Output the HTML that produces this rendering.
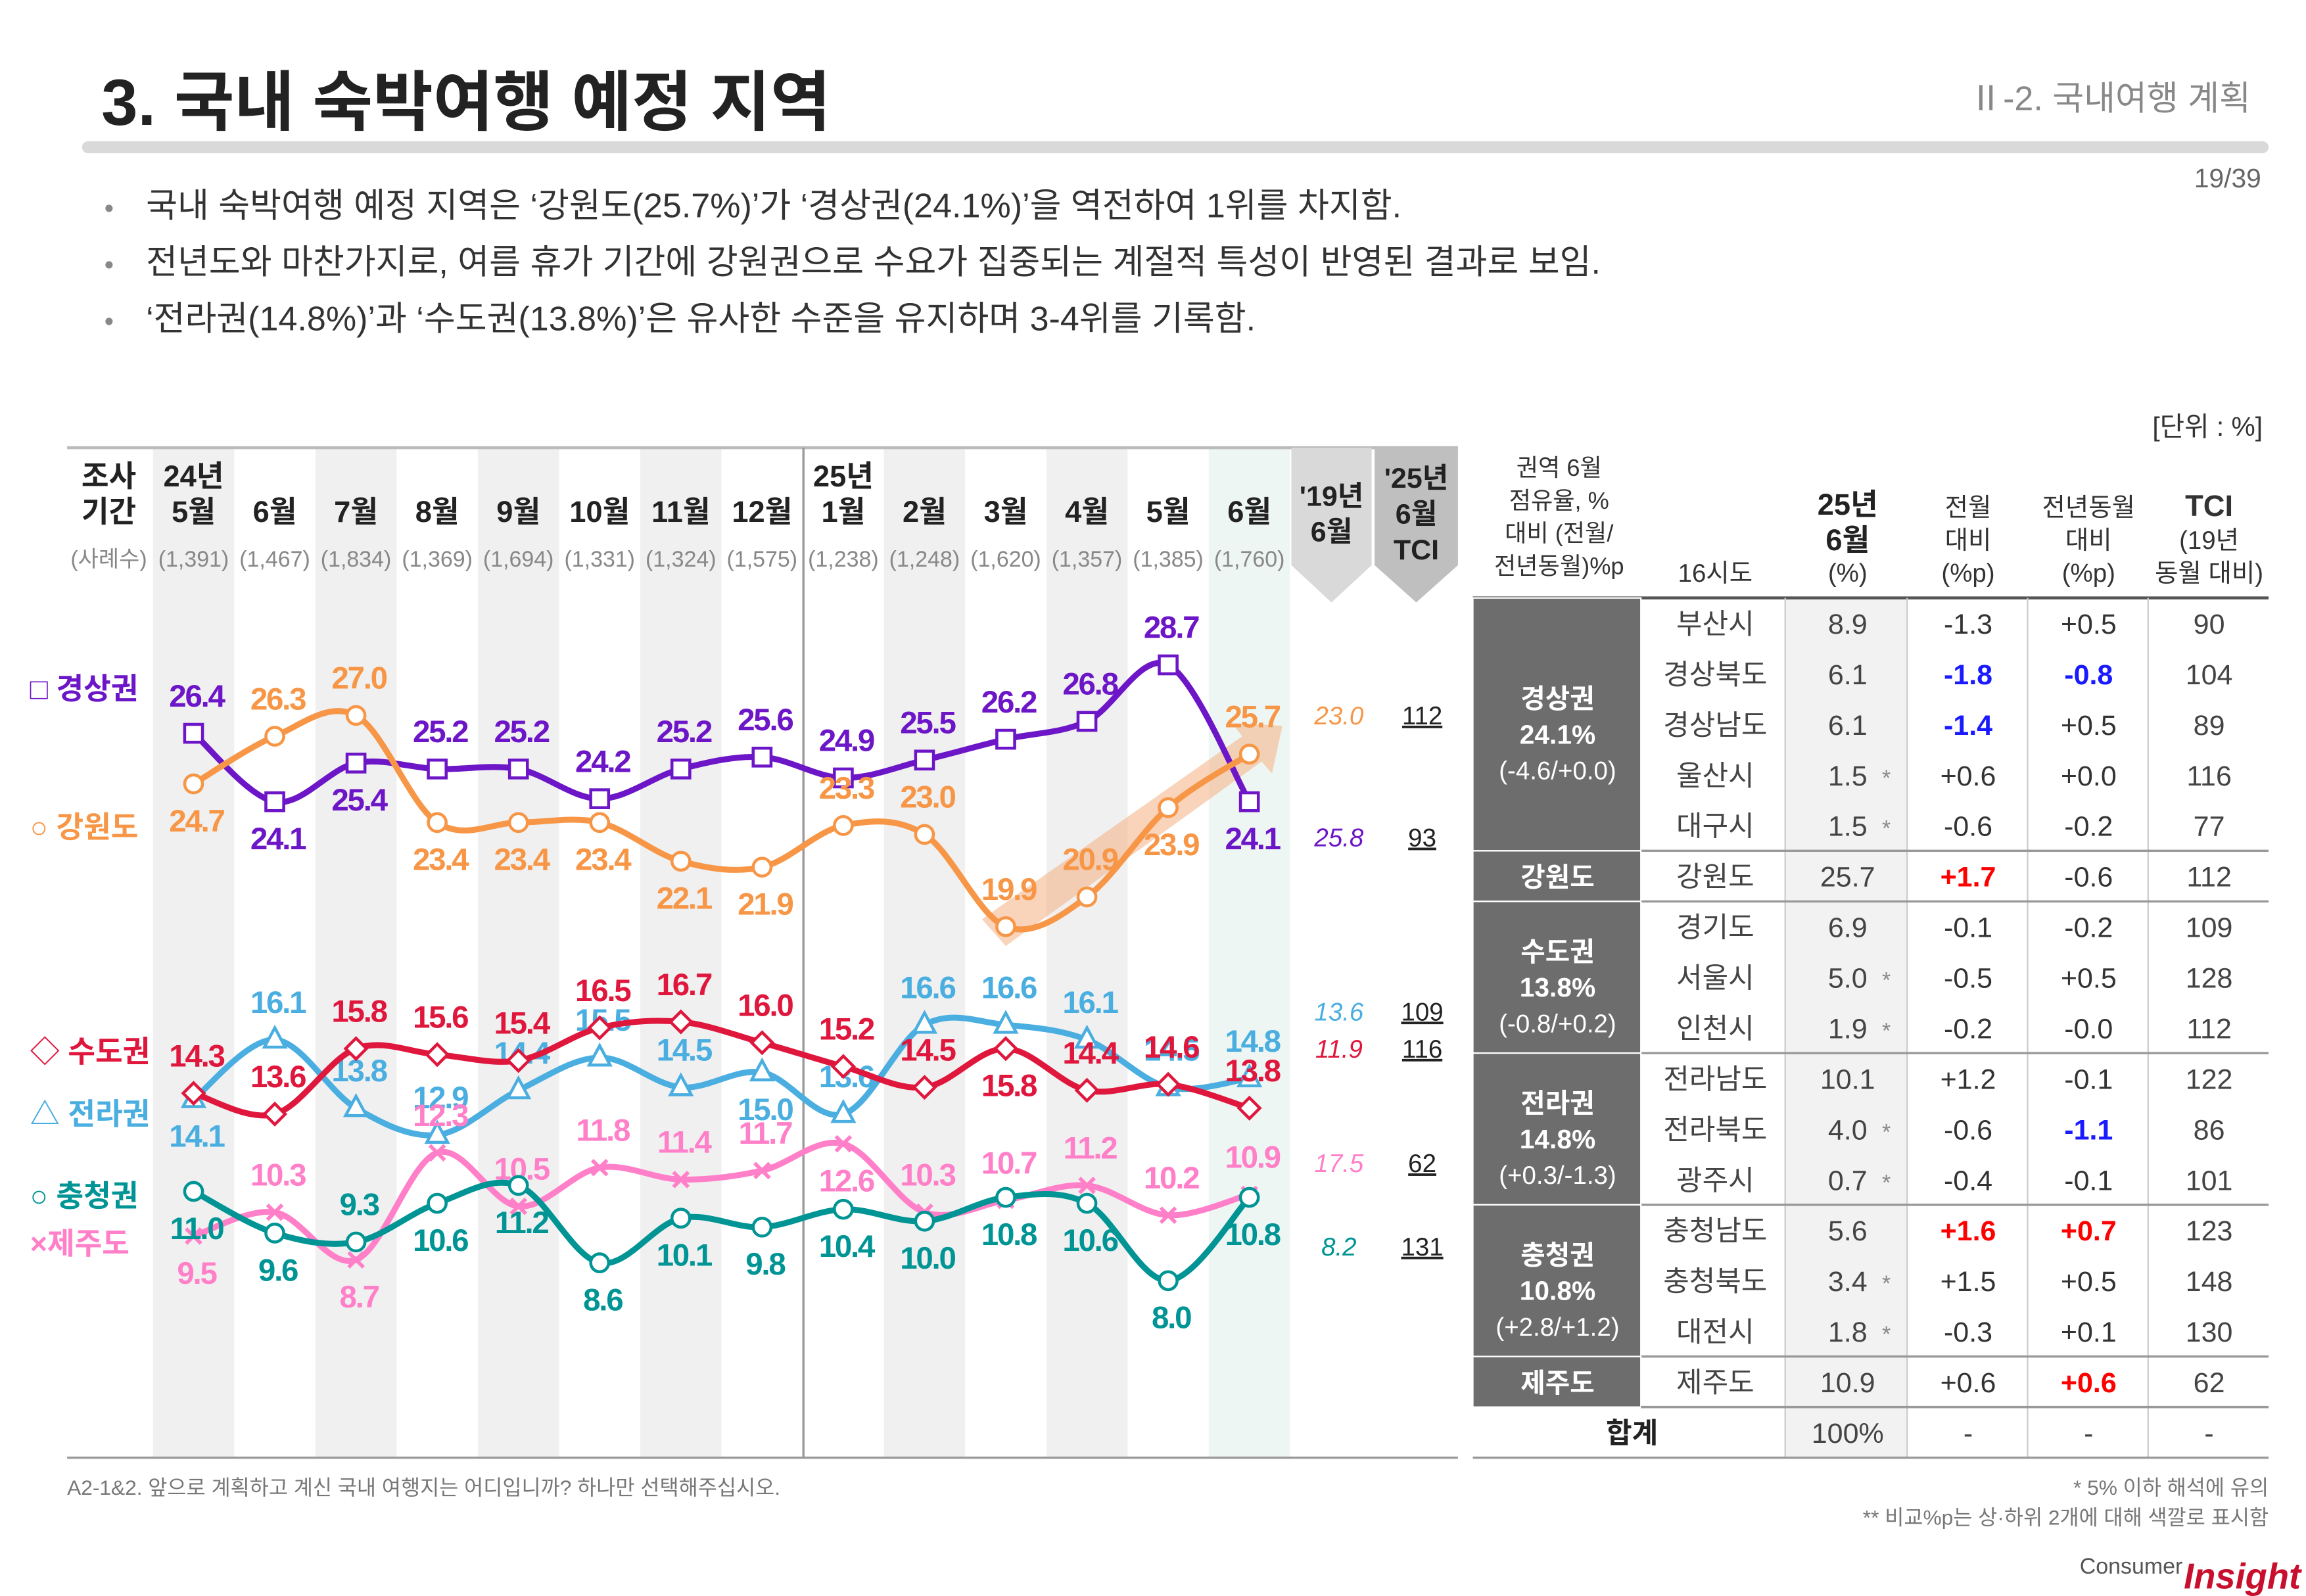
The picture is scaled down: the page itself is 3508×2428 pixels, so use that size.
<!DOCTYPE html>
<html><head><meta charset="utf-8">
<style>
html,body{margin:0;padding:0;background:#fff;}
svg{display:block;font-family:"Liberation Sans","Noto Sans CJK KR",sans-serif;}
</style></head>
<body>
<svg id="root" width="3508" height="2428" viewBox="0 0 1550 1073" xmlns="http://www.w3.org/2000/svg">
<g>
<text x="68" y="84" font-size="44" font-weight="bold" fill="#222">3. 국내 숙박여행 예정 지역</text>
<text x="1513" y="74" font-size="23" fill="#888" text-anchor="end">Ⅱ-2. 국내여행 계획</text>
<rect x="55" y="95" width="1470" height="8" rx="4" fill="#d9d9d9"/>
<text x="1520" y="126" font-size="18" fill="#666" text-anchor="end">19/39</text>
</g>
<g font-size="23" fill="#333">
<text x="70" y="146" fill="#888" font-size="18">•</text><text x="98" y="146">국내 숙박여행 예정 지역은 ‘강원도(25.7%)’가 ‘경상권(24.1%)’을 역전하여 1위를 차지함.</text>
<text x="70" y="184" fill="#888" font-size="18">•</text><text x="98" y="184">전년도와 마찬가지로, 여름 휴가 기간에 강원권으로 수요가 집중되는 계절적 특성이 반영된 결과로 보임.</text>
<text x="70" y="222" fill="#888" font-size="18">•</text><text x="98" y="222">‘전라권(14.8%)’과 ‘수도권(13.8%)’은 유사한 수준을 유지하며 3-4위를 기록함.</text>
</g>
<text x="1521" y="293" font-size="18" fill="#333" text-anchor="end">[단위 : %]</text>
<g id="chart"></g>
<g id="table"></g>
<g fill="#777">
<text x="45" y="1005" font-size="14">A2-1&amp;2. 앞으로 계획하고 계신 국내 여행지는 어디입니까? 하나만 선택해주십시오.</text>
<text x="1525" y="1005" font-size="14" text-anchor="end">* 5% 이하 해석에 유의</text>
<text x="1525" y="1025" font-size="14" text-anchor="end">** 비교%p는 상·하위 2개에 대해 색깔로 표시함</text>
<text x="1398" y="1058" font-size="15" fill="#555">Consumer</text>
<text x="1468" y="1068" font-size="24" font-weight="bold" fill="#c8102e" font-style="italic">Insight</text>
</g>
</svg>
<script>
const months = ["5월","6월","7월","8월","9월","10월","11월","12월","1월","2월","3월","4월","5월","6월"];
const samples = ["(1,391)","(1,467)","(1,834)","(1,369)","(1,694)","(1,331)","(1,324)","(1,575)","(1,238)","(1,248)","(1,620)","(1,357)","(1,385)","(1,760)"];
const gyeongsang = [26.4,24.1,25.4,25.2,25.2,24.2,25.2,25.6,24.9,25.5,26.2,26.8,28.7,24.1];
const gangwon = [24.7,26.3,27.0,23.4,23.4,23.4,22.1,21.9,23.3,23.0,19.9,20.9,23.9,25.7];
const sudo = [14.3,13.6,15.8,15.6,15.4,16.5,16.7,16.0,15.2,14.5,15.8,14.4,14.6,13.8];
const jeolla = [14.1,16.1,13.8,12.9,14.4,15.5,14.5,15.0,13.6,16.6,16.6,16.1,14.5,14.8];
const chungcheong = [11.0,9.6,9.3,10.6,11.2,8.6,10.1,9.8,10.4,10.0,10.8,10.6,8.0,10.8];
const jeju = [9.5,10.3,8.7,12.3,10.5,11.8,11.4,11.7,12.6,10.3,10.7,11.2,10.2,10.9];
const prev19 = [23.0,25.8,11.9,13.6,8.2,17.5];
const tci = [112,93,116,109,131,62];

const NS="http://www.w3.org/2000/svg";
function mk(p,tag,attrs,txt){const e=document.createElementNS(NS,tag);for(const k in attrs)e.setAttribute(k,attrs[k]);if(txt!==undefined)e.textContent=txt;p.appendChild(e);return e;}
const chart=document.getElementById('chart');
const X0=130, DX=54.6;
function xs(i){return X0+DX*i;}
function ys(v){return 1021-20*v;}

[0,2,4,6,9,11].forEach(i=>{const r=mk(chart,'rect',{x:xs(i)-27.3,y:302,width:DX,height:678,fill:'#f0f0f0'});

});
{const r=mk(chart,'rect',{x:xs(13)-27.3,y:302,width:DX,height:678,fill:'#eef6f4'});

}
mk(chart,'line',{x1:45,y1:301,x2:980,y2:301,stroke:'#bbb','stroke-width':2});
mk(chart,'line',{x1:45,y1:980,x2:980,y2:980,stroke:'#999','stroke-width':1.5});
mk(chart,'line',{x1:540,y1:301,x2:540,y2:980,stroke:'#999','stroke-width':1.5});
mk(chart,'path',{d:'M868 301 H922 V380 L895 405 L868 380Z',fill:'#d9d9d9'});
mk(chart,'path',{d:'M924 301 H980 V380 L952 405 L924 380Z',fill:'#bfbfbf'});
mk(chart,'text',{x:73,y:327,'font-size':20,'font-weight':'bold','text-anchor':'middle',fill:'#222'},'조사');
mk(chart,'text',{x:73,y:351,'font-size':20,'font-weight':'bold','text-anchor':'middle',fill:'#222'},'기간');
mk(chart,'text',{x:xs(0),y:327,'font-size':20,'font-weight':'bold','text-anchor':'middle',fill:'#222'},'24년');
mk(chart,'text',{x:xs(8),y:327,'font-size':20,'font-weight':'bold','text-anchor':'middle',fill:'#222'},'25년');
mk(chart,'text',{x:73,y:381,'font-size':15,'text-anchor':'middle',fill:'#888'},'(사례수)');
months.forEach((m,i)=>{
 const t=mk(chart,'text',{x:xs(i),y:351,'font-size':20,'font-weight':'bold','text-anchor':'middle',fill:'#222'},m);
 
 
 const s=mk(chart,'text',{x:xs(i),y:381,'font-size':15,'text-anchor':'middle',fill:'#888'},samples[i]);
 
 
});
mk(chart,'text',{x:895,y:340,'font-size':19,'font-weight':'bold','text-anchor':'middle',fill:'#222'},"'19년");
mk(chart,'text',{x:895,y:364,'font-size':19,'font-weight':'bold','text-anchor':'middle',fill:'#222'},"6월");
mk(chart,'text',{x:952,y:328,'font-size':19,'font-weight':'bold','text-anchor':'middle',fill:'#222'},"'25년");
mk(chart,'text',{x:952,y:352,'font-size':19,'font-weight':'bold','text-anchor':'middle',fill:'#222'},"6월");
mk(chart,'text',{x:952,y:376,'font-size':19,'font-weight':'bold','text-anchor':'middle',fill:'#222'},"TCI");

{const a=mk(chart,'path',{d:'M660 618 L835 495 L828 486 L862 488 L855 520 L848 512 L676 636Z',fill:'#f4b183','fill-opacity':0.55});

}

function smooth(pts){let d='M'+pts[0][0]+' '+pts[0][1];for(let i=0;i<pts.length-1;i++){const p0=pts[Math.max(0,i-1)],p1=pts[i],p2=pts[i+1],p3=pts[Math.min(pts.length-1,i+2)];
 const c1=[p1[0]+(p2[0]-p0[0])/6,p1[1]+(p2[1]-p0[1])/6],c2=[p2[0]-(p3[0]-p1[0])/6,p2[1]-(p3[1]-p1[1])/6];
 d+=` C${c1[0]} ${c1[1]} ${c2[0]} ${c2[1]} ${p2[0]} ${p2[1]}`;}return d;}

const series=[
 {name:'gyeongsang',vals:gyeongsang,color:'#6c16c7',mark:'square',pos:'abbaaaaaaaaaab'},
 {name:'gangwon',vals:gangwon,color:'#f79646',mark:'circle',pos:'baabbbbbaaaaba'},
 {name:'jeolla',vals:jeolla,color:'#4aaee0',mark:'triangle',pos:'baaaaaabaaaaaa'},
 {name:'sudo',vals:sudo,color:'#e0173d',mark:'diamond',pos:'aaaaaaaaaabaaa'},
 {name:'jeju',vals:jeju,color:'#ff7fc8',mark:'x',pos:'babaaaaabaaaaa'},
 {name:'chungcheong',vals:chungcheong,color:'#009494',mark:'circle',pos:'bbabbbbbbbbbbb'}
];
series.forEach(s=>{
 const g=mk(chart,'g',{});
 
 
 const pts=s.vals.map((v,i)=>[xs(i),ys(v)]);
 const p=mk(g,'path',{d:smooth(pts),fill:'none',stroke:s.color,'stroke-width':4,'stroke-linecap':'round'});
 
 
 pts.forEach((pt,i)=>{
  const [x,y]=pt;let m;
  if(s.mark==='square')m=mk(g,'rect',{x:x-6,y:y-6,width:12,height:12,fill:'#fff',stroke:s.color,'stroke-width':2});
  else if(s.mark==='circle')m=mk(g,'circle',{cx:x,cy:y,r:6,fill:'#fff',stroke:s.color,'stroke-width':2});
  else if(s.mark==='diamond')m=mk(g,'path',{d:`M${x} ${y-7}L${x+7} ${y}L${x} ${y+7}L${x-7} ${y}Z`,fill:'#fff',stroke:s.color,'stroke-width':2});
  else if(s.mark==='triangle')m=mk(g,'path',{d:`M${x} ${y-8}L${x+7} ${y+5}L${x-7} ${y+5}Z`,fill:'#fff',stroke:s.color,'stroke-width':2});
  else m=mk(g,'path',{d:`M${x-5} ${y-5}L${x+5} ${y+5}M${x+5} ${y-5}L${x-5} ${y+5}`,stroke:s.color,'stroke-width':2.5});
  
  
  const above=s.pos[i]==='a';
  const t=mk(g,'text',{x:x+2,y:above?y-18:y+32,'font-size':21,'font-weight':'bold','text-anchor':'middle',fill:s.color,'letter-spacing':'-1'},s.vals[i].toFixed(1));
  
  
 });
});
const legend=[['□ 경상권','#6c16c7',470],['○ 강원도','#f79646',563],['◇ 수도권','#e0173d',714],['△ 전라권','#4aaee0',756],['○ 충청권','#009494',811],['×제주도','#ff7fc8',843]];
legend.forEach(l=>{const t=mk(chart,'text',{x:20,y:l[2],'font-size':20,'font-weight':'bold',fill:l[1]},l[0]);

});
const sideColors=['#f79646','#6c16c7','#e0173d','#4aaee0','#009494','#ff7fc8'];
const sideY=[480,562,704,679,837,781];
prev19.forEach((v,i)=>{
 const t=mk(chart,'text',{x:900,y:sideY[i]+7,'font-size':17,'font-style':'italic','text-anchor':'middle',fill:sideColors[i]},v.toFixed(1));
 
 
 const u=mk(chart,'text',{x:956,y:sideY[i]+7,'font-size':17,'text-anchor':'middle',fill:'#222','text-decoration':'underline'},String(tci[i]));
 
 
});

const tb=document.getElementById('table');
const cities=['부산시','경상북도','경상남도','울산시','대구시','강원도','경기도','서울시','인천시','전라남도','전라북도','광주시','충청남도','충청북도','대전시','제주도'];
const share=['8.9','6.1','6.1','1.5','1.5','25.7','6.9','5.0','1.9','10.1','4.0','0.7','5.6','3.4','1.8','10.9'];
const star=[0,0,0,1,1,0,0,1,1,0,1,1,0,1,1,0];
const mom=['-1.3','-1.8','-1.4','+0.6','-0.6','+1.7','-0.1','-0.5','-0.2','+1.2','-0.6','-0.4','+1.6','+1.5','-0.3','+0.6'];
const yoy=['+0.5','-0.8','+0.5','+0.0','-0.2','-0.6','-0.2','+0.5','-0.0','-0.1','-1.1','-0.1','+0.7','+0.5','+0.1','+0.6'];
const tciCity=['90','104','89','116','77','112','109','128','112','122','86','101','123','148','130','62'];
const momCol='.bb..r......r...', yoyCol='.b........b.r..r';
const T0=402,RH=34;
mk(tb,'rect',{x:1200,y:T0,width:82,height:RH*17,fill:'#f2f2f2'});
mk(tb,'line',{x1:990,y1:402,x2:1525,y2:402,stroke:'#555','stroke-width':2});
[1200,1282,1363,1444].forEach(x=>mk(tb,'line',{x1:x,y1:402,x2:x,y2:980,stroke:'#ccc','stroke-width':1}));
const groups=[['경상권','24.1%','(-4.6/+0.0)',0,5],['강원도','','',5,1],['수도권','13.8%','(-0.8/+0.2)',6,3],['전라권','14.8%','(+0.3/-1.3)',9,3],['충청권','10.8%','(+2.8/+1.2)',12,3],['제주도','','',15,1]];
groups.forEach(g=>{
 const y=T0+g[3]*RH,h=g[4]*RH;
 const r=mk(tb,'rect',{x:990,y:y,width:113,height:h,fill:'#6d6d6d',stroke:'#fff','stroke-width':1});
 
 
 const cy=y+h/2;
 if(g[1]){[g[0],g[1],g[2]].forEach((s,k)=>mk(tb,'text',{x:1047,y:cy-18+k*24+7,'font-size':k==2?17:18,'text-anchor':'middle',fill:'#fff','font-weight':k<2?'bold':'normal'},s));}
 else mk(tb,'text',{x:1047,y:cy+7,'font-size':18,'font-weight':'bold','text-anchor':'middle',fill:'#fff'},g[0]);
 mk(tb,'line',{x1:1103,y1:y+h,x2:1525,y2:y+h,stroke:'#999','stroke-width':1.5});
});
const cc={'b':'#1a1aff','r':'#ff0000','.':'#333'};
cities.forEach((c,i)=>{
 const y=T0+i*RH+RH/2+7;
 const a=mk(tb,'text',{x:1153,y:y,'font-size':19,'text-anchor':'middle',fill:'#444'},c);
 
 
 mk(tb,'text',{x:1242,y:y,'font-size':19,'text-anchor':'middle',fill:'#444'},share[i]);
 if(star[i])mk(tb,'text',{x:1268,y:y,'font-size':15,'text-anchor':'middle',fill:'#888'},'*');
 mk(tb,'text',{x:1323,y:y,'font-size':19,'text-anchor':'middle',fill:cc[momCol[i]],'font-weight':momCol[i]=='.'?'normal':'bold'},mom[i]);
 mk(tb,'text',{x:1404,y:y,'font-size':19,'text-anchor':'middle',fill:cc[yoyCol[i]],'font-weight':yoyCol[i]=='.'?'normal':'bold'},yoy[i]);
 mk(tb,'text',{x:1485,y:y,'font-size':19,'text-anchor':'middle',fill:'#444'},tciCity[i]);
});
const ty=T0+16*RH+RH/2+7;
mk(tb,'text',{x:1097,y:ty,'font-size':19,'font-weight':'bold','text-anchor':'middle',fill:'#222'},'합계');
mk(tb,'text',{x:1242,y:ty,'font-size':19,'text-anchor':'middle',fill:'#444'},'100%');
[1323,1404,1485].forEach(x=>mk(tb,'text',{x:x,y:ty,'font-size':19,'text-anchor':'middle',fill:'#444'},'-'));
mk(tb,'line',{x1:990,y1:980,x2:1525,y2:980,stroke:'#999','stroke-width':1.5});
[['권역 6월',320],['점유율, %',342],['대비 (전월/',364],['전년동월)%p',386]].forEach(h=>mk(tb,'text',{x:1048,y:h[1],'font-size':16,'text-anchor':'middle',fill:'#333'},h[0]));
mk(tb,'text',{x:1153,y:391,'font-size':17,'text-anchor':'middle',fill:'#333'},'16시도');
mk(tb,'text',{x:1242,y:346,'font-size':20,'font-weight':'bold','text-anchor':'middle',fill:'#222'},'25년');
mk(tb,'text',{x:1242,y:370,'font-size':20,'font-weight':'bold','text-anchor':'middle',fill:'#222'},'6월');
mk(tb,'text',{x:1242,y:391,'font-size':17,'text-anchor':'middle',fill:'#333'},'(%)');
[[1323,['전월','대비','(%p)']],[1404,['전년동월','대비','(%p)']],[1485,['TCI','(19년','동월 대비)']]].forEach(c=>{
 c[1].forEach((s,k)=>mk(tb,'text',{x:c[0],y:347+k*22,'font-size':k==0&&c[0]==1485?20:17,'font-weight':k==0&&c[0]==1485?'bold':'normal','text-anchor':'middle',fill:'#333'},s));
});
</script>
</body></html>
